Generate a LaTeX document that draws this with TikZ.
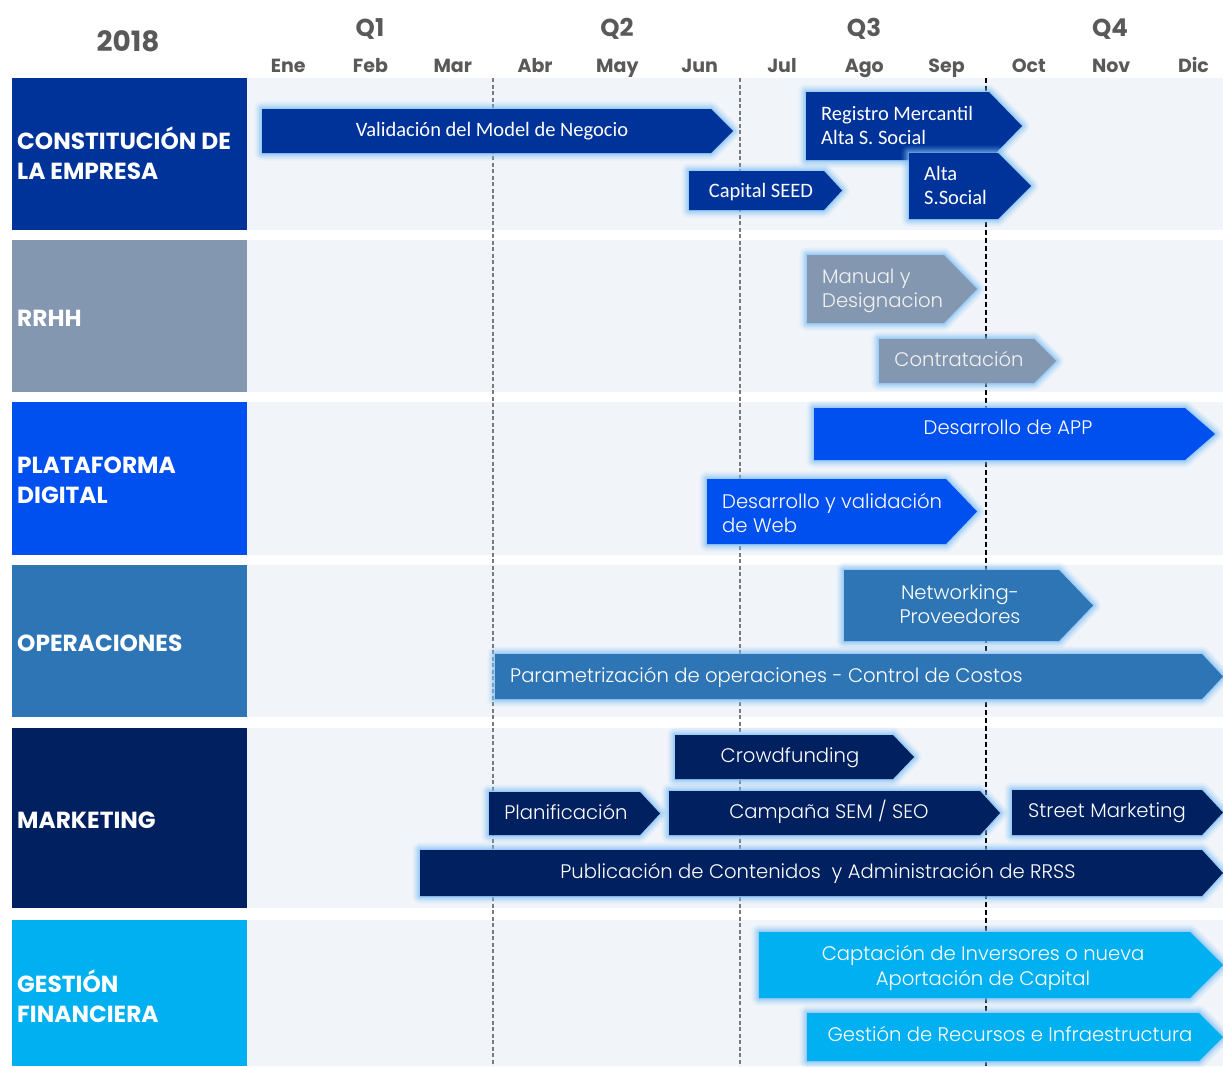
\documentclass[tikz,border=0pt]{standalone}
\usepackage{fontspec}
\setmainfont{Poppins}
\IfFontExistsTF{Poppins Light}{\newfontfamily\gothic{Poppins Light}}{\newfontfamily\gothic{Poppins}}
\newfontfamily\calib{Carlito}
\definecolor{hdrgray}{HTML}{595959}
\definecolor{band}{HTML}{F1F5FA}
\definecolor{cEmp}{HTML}{003399}
\definecolor{cRRHH}{HTML}{8497B0}
\definecolor{cPlat}{HTML}{0050F0}
\definecolor{cOper}{HTML}{2E75B6}
\definecolor{cMkt}{HTML}{002060}
\definecolor{cFin}{HTML}{00B0F0}
\definecolor{glowc}{HTML}{7FBFF5}
\definecolor{txtlight}{HTML}{F2F2F2}

\tikzset{
  yearlbl/.style={text=hdrgray, font=\bfseries\fontsize{28}{30}\selectfont, inner sep=0, anchor=base},
  qlbl/.style={text=hdrgray, font=\bfseries\fontsize{24.5}{26}\selectfont, inner sep=0, anchor=base},
  monthlbl/.style={text=hdrgray, font=\bfseries\fontsize{19}{22}\selectfont, inner sep=0, anchor=base},
  rowlbl/.style={text=white, font=\bfseries\fontsize{23.3}{30.5}\selectfont, inner sep=0, anchor=west, align=left},
  tasktxt/.style={text=white, font=\gothic\fontsize{19.6}{24.5}\selectfont, inner sep=0},
  calibtxt/.style={text=white, font=\calib\fontsize{20.5}{24}\selectfont, inner sep=0},
  qdiv/.style={draw=hdrgray!80, line width=1.3, dash pattern=on 4 off 2.5},
  hdiv/.style={draw=black, line width=1.8, dash pattern=on 5 off 3},
}

% a task bar: fill colour, left x, top y, body end x, tip x, bottom y
\newcommand{\gtask}[6]{%
  \foreach \w/\o in {15/0.12, 11/0.18, 7/0.3, 3/0.5}{%
    \draw[glowc, line width=\w, opacity=\o, line join=round]
      (#2,#3) -- (#4,#3) -- (#5,{(#3+#6)/2}) -- (#4,#6) -- (#2,#6) -- cycle;}
  \fill[#1] (#2,#3) -- (#4,#3) -- (#5,{(#3+#6)/2}) -- (#4,#6) -- (#2,#6) -- cycle;
}

\begin{document}
\begin{tikzpicture}[x=1pt, y=-1pt]
\useasboundingbox[fill=white] (0,0) rectangle (1223,1066);

% header
\node[yearlbl] (year) at (128,51) {2018};
\node[qlbl] (q1) at (370,36) {Q1};
\node[qlbl] (q2) at (617,36) {Q2};
\node[qlbl] (q3) at (864,36) {Q3};
\node[qlbl] (q4) at (1110,36) {Q4};
\foreach \m [count=\i] in {Ene,Feb,Mar,Abr,May,Jun,Jul,Ago,Sep,Oct,Nov,Dic}{
  \node[monthlbl] (m\i) at ({247+82.3*(\i-0.5)},72) {\m};
}

% row bands and row titles
\foreach \c/\t/\b in {cEmp/78/230, cRRHH/240/392, cPlat/402/555, cOper/565/717, cMkt/728/908, cFin/920/1066}{
  \fill[band] (247,\t) rectangle (1223,\b);
  \fill[\c] (12,\t) rectangle (247,\b);
}
\node[rowlbl] (lEmp) at (17,153) {CONSTITUCIÓN DE\\LA EMPRESA};
\node[rowlbl] (lRRHH) at (17,318) {RRHH};
\node[rowlbl] (lPlat) at (17,480.5) {PLATAFORMA\\DIGITAL};
\node[rowlbl] (lOper) at (17,643) {OPERACIONES};
\node[rowlbl] (lMkt) at (17,820) {MARKETING};
\node[rowlbl] (lFin) at (17,996) {GESTIÓN\\FINANCIERA};

% quarter dividers
\draw[qdiv] (493,78) -- (493,1066);
\draw[qdiv] (740,78) -- (740,1066);
\draw[hdiv] (986,78) -- (986,1066);

% constitución de la empresa
\gtask{cEmp}{262}{109}{711}{733}{153}
\node[calibtxt, anchor=base] (t1) at (492,136) {Validación del Model de Negocio};
\gtask{cEmp}{806}{92}{989}{1022}{160}
\node[calibtxt, anchor=west, align=left] (t2) at (821,125) {Registro Mercantil\\Alta S. Social};
\gtask{cEmp}{689}{171}{824}{842}{210}
\node[calibtxt, anchor=base] (t3) at (761,197) {Capital SEED};
\gtask{cEmp}{909}{153}{998}{1031}{219}
\node[calibtxt, anchor=west, align=left] (t4) at (924,185.5) {Alta\\S.Social};

% rrhh
\gtask{cRRHH}{807}{255}{944}{977}{323}
\node[tasktxt, text=txtlight, anchor=west, align=left] (t5) at (822,291) {Manual y\\Designacion};
\gtask{cRRHH}{879}{339}{1034}{1056}{383}
\node[tasktxt, text=txtlight, anchor=base] (t6) at (959,366) {Contratación};

% plataforma digital
\gtask{cPlat}{814}{408}{1185}{1215}{460}
\node[tasktxt, anchor=base] (t7) at (1008,434) {Desarrollo de APP};
\gtask{cPlat}{707}{479}{946}{977}{544}
\node[tasktxt, anchor=west, align=left] (t8) at (722,513) {Desarrollo y validación\\de Web};

% operaciones
\gtask{cOper}{844}{570}{1059}{1093}{641}
\node[tasktxt, align=center] (t9) at (960,604) {Networking-\\Proveedores};
\gtask{cOper}{495}{654}{1202}{1223}{699}
\node[tasktxt, anchor=base west] (t10) at (510,682) {Parametrización de operaciones - Control de Costos};

% marketing
\gtask{cMkt}{675}{735}{893}{914}{779}
\node[tasktxt, anchor=base] (t11) at (790,762) {Crowdfunding};
\gtask{cMkt}{489}{792}{640}{660}{835}
\node[tasktxt, anchor=base] (t12) at (566,819) {Planificación};
\gtask{cMkt}{669}{791}{980}{1000}{835}
\node[tasktxt, anchor=base] (t13) at (829,818) {Campaña SEM / SEO};
\gtask{cMkt}{1012}{790}{1202}{1223}{835}
\node[tasktxt, anchor=base] (t14) at (1107,817) {Street Marketing};
\gtask{cMkt}{420}{850}{1202}{1223}{896}
\node[tasktxt, anchor=base] (t15) at (818,878) {Publicación de Contenidos\ \ y Administración de RRSS};

% gestión financiera
\gtask{cFin}{759}{932}{1190}{1223}{998}
\node[tasktxt, align=center] (t16) at (983,968) {Captación de Inversores o nueva\\Aportación de Capital};
\gtask{cFin}{807}{1013}{1199}{1223}{1061}
\node[tasktxt, anchor=base] (t17) at (1010,1041) {Gestión de Recursos e Infraestructura};
\end{tikzpicture}
\end{document}
